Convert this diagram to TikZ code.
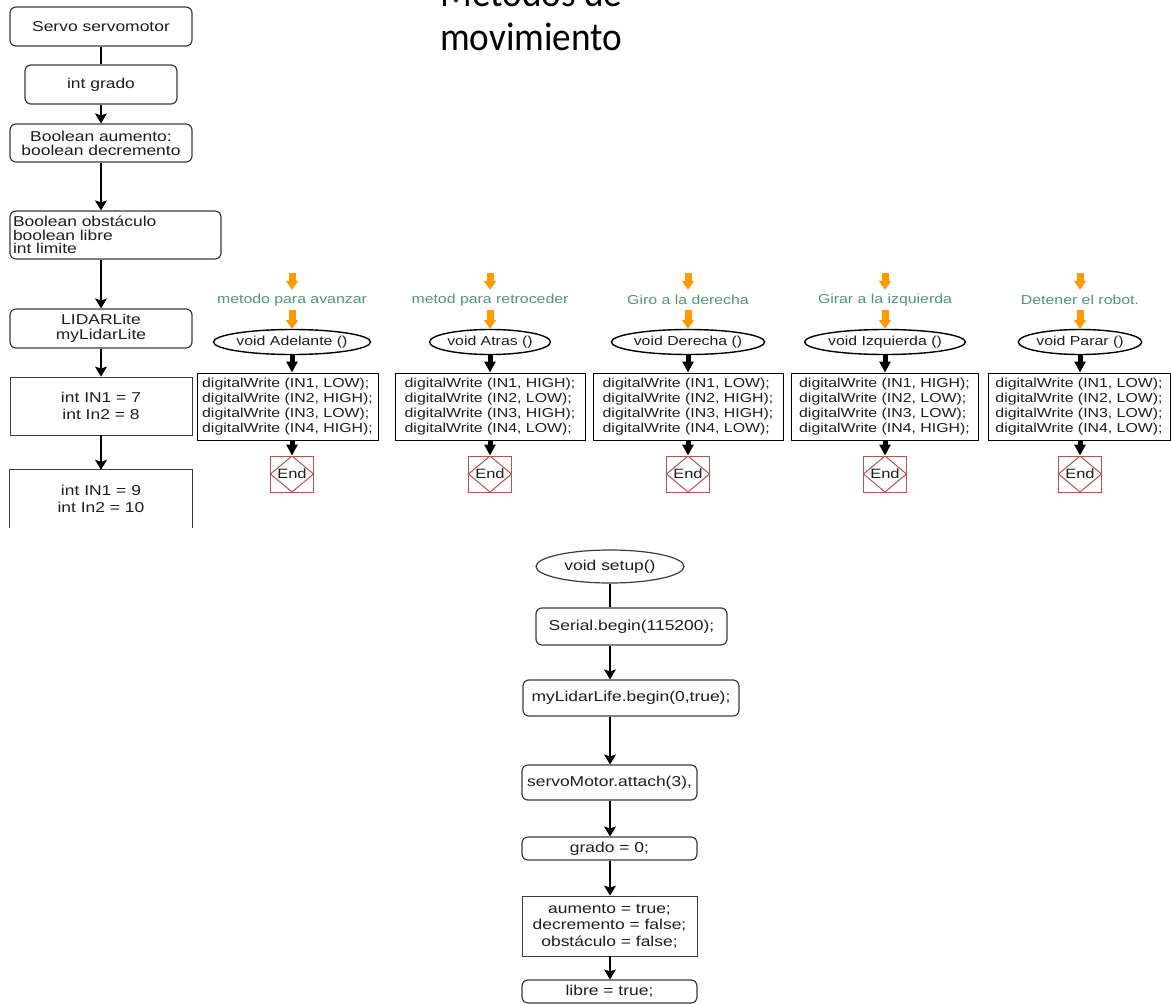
\documentclass[tikz,border=0pt]{standalone}
\usepackage{fontspec}
\setmainfont{Liberation Sans}[FakeStretch=1.22]
\newfontfamily\titlef{Carlito}[FakeStretch=0.93]
\usetikzlibrary{arrows.meta,shapes.geometric,calc}
\definecolor{orng}{RGB}{255,153,0}
\definecolor{grn}{RGB}{80,150,120}
\definecolor{endred}{RGB}{184,84,80}
\definecolor{bord}{RGB}{60,60,60}
\definecolor{txt}{RGB}{30,30,30}
\newcommand\dwlines[4]{digitalWrite (IN1, #1);\\digitalWrite (IN2, #2);\\digitalWrite (IN3, #3);\\digitalWrite (IN4, #4);}
\newcommand\mcol[8]{%
  \coordinate (os#1) at (#2,273);
  \node[lab] (lab#1) at (#2,300) {#6};
  \node[fn, minimum width=#5] (fn#1) at (#2,342) {#7};
  \node[code, minimum width=#4] (code#1) at (#3,406.5) {#8};
  \node[endbox] (end#1) at (#2,474) {End};
  \draw[oarr] (os#1) -- (lab#1.north);
  \draw[oarr] (lab#1.south) -- (fn#1.north);
  \draw[barr] (fn#1.south) -- (fn#1.south |- code#1.north);
  \draw[barr] (code#1.south -| end#1.north) -- (end#1.north);
}
\begin{document}
\begin{tikzpicture}[x=1pt,y=-1pt,
  big/.style={font=\fontsize{14.3}{16}\selectfont},
  small/.style={font=\fontsize{13}{15.1}\selectfont},
  rbox/.style={draw=bord,line width=1.2pt,rounded corners=6pt,inner sep=2pt,big,align=center,text=txt},
  sbox/.style={draw=bord,line width=0.9pt,inner sep=2pt,big,align=center,text=txt},
  code/.style={draw=black,line width=1pt,small,align=left,inner sep=3pt,minimum height=67pt,text=txt},
  lab/.style={inner sep=0pt,minimum height=20pt,small,text=grn},
  fn/.style={ellipse,draw=black,line width=1.4pt,inner sep=0pt,minimum height=25pt,small,text=txt},
  endbox/.style={draw=endred,line width=1pt,minimum width=43pt,minimum height=36pt,inner sep=0pt,font=\fontsize{13.5}{15}\selectfont,text=txt,
    path picture={\draw[endred,line width=1pt] (path picture bounding box.north) -- (path picture bounding box.east) -- (path picture bounding box.south) -- (path picture bounding box.west) -- cycle;}},
  arr/.style={draw=black,line width=1.2pt,-{Stealth[length=10pt,width=12pt,inset=2pt]}},
  plain/.style={draw=black,line width=1.2pt},
  oarr/.style={draw=orng,line width=7pt,-{Triangle[length=9pt,width=12pt]}},
  barr/.style={draw=black,line width=5pt,-{Triangle[length=11pt,width=11pt]}},
  ttl/.style={font=\titlef\fontsize{40}{40}\selectfont,inner sep=0pt,anchor=base west,text=black}
]
\path[use as bounding box] (0,0) rectangle (1171,1004);
\clip (0,0) rectangle (1171,1004);
\fill[white] (0,0) rectangle (1171,1004);

% title
\node[ttl] (t1) at (440,6) {Métodos de};
\node[ttl] (t2) at (440,50) {movimiento};

% left column
\node[rbox,minimum width=182pt,minimum height=39pt] (servo) at (101,26.5) {Servo servomotor};
\node[rbox,minimum width=152pt,minimum height=39pt] (grado) at (101,84.5) {int grado};
\node[rbox,minimum width=182pt,minimum height=38pt,font=\fontsize{14.3}{14}\selectfont] (baum) at (101,143) {Boolean aumento:\\boolean decremento};
\node[rbox,minimum width=211pt,minimum height=48pt,text width=205pt,align=left,inner sep=3pt,font=\fontsize{14.3}{13.5}\selectfont] (bobs) at (115.5,235) {Boolean obstáculo\\boolean libre\\int limite};
\node[rbox,minimum width=182pt,minimum height=39pt,font=\fontsize{14.3}{15}\selectfont] (lidar) at (101,328.5) {LIDARLite\\myLidarLite};
\node[sbox,minimum width=182pt,minimum height=58pt,font=\fontsize{14.3}{16.7}\selectfont] (in17) at (101,406) {int IN1 = 7\\int In2 = 8};
\node[inner sep=2pt,minimum width=182pt,minimum height=58pt,align=center,text=txt,font=\fontsize{14.3}{16.7}\selectfont] (in910) at (101,499) {int IN1 = 9\\int In2 = 10};
\draw[draw=bord,line width=0.9pt] (in910.south west) -- (in910.north west) -- (in910.north east) -- (in910.south east);

\draw[plain] (servo.south) -- (grado.north);
\draw[arr] (grado.south) -- (baum.north);
\draw[arr] (baum.south) -- (baum.south |- bobs.north);
\draw[arr] (bobs.south -| lidar.north) -- (lidar.north);
\draw[arr] (lidar.south) -- (in17.north);
\draw[arr] (in17.south) -- (in910.north);

% method columns
\mcol{1}{292}{287.5}{181pt}{133pt}{metodo para avanzar}{void Adelante ()}{\dwlines{LOW}{HIGH}{LOW}{HIGH}}
\mcol{2}{490}{490}{190pt}{106pt}{metod para retroceder}{void Atras ()}{\dwlines{HIGH}{LOW}{HIGH}{LOW}}
\mcol{3}{688}{688}{190pt}{131pt}{Giro a la derecha}{void Derecha ()}{\dwlines{LOW}{HIGH}{HIGH}{LOW}}
\mcol{4}{885}{884.5}{187pt}{137pt}{Girar a la izquierda}{void Izquierda ()}{\dwlines{HIGH}{LOW}{LOW}{HIGH}}
\mcol{5}{1080}{1079}{182pt}{108pt}{Detener el robot.}{void Parar ()}{\dwlines{LOW}{LOW}{LOW}{LOW}}

% setup column
\node[ellipse,draw=bord,line width=1.2pt,minimum width=148pt,minimum height=33pt,inner sep=0pt,big,text=txt] (setup) at (610,566.5) {void setup()};
\node[rbox,minimum width=191pt,minimum height=37pt] (serial) at (631.5,626.5) {Serial.begin(115200);};
\node[rbox,minimum width=216pt,minimum height=36pt] (mylidar) at (631,698) {myLidarLife.begin(0,true);};
\node[rbox,minimum width=175pt,minimum height=35pt,inner sep=1pt] (attach) at (609.5,782.5) {servoMotor.attach(3),};
\node[rbox,minimum width=175pt,minimum height=23pt,inner sep=1pt] (g0) at (609.5,848.5) {grado = 0;};
\node[sbox,minimum width=175pt,minimum height=60pt,font=\fontsize{14.3}{16.7}\selectfont] (aum) at (609.5,926) {aumento = true;\\decremento = false;\\obstáculo = false;};
\node[rbox,minimum width=175pt,minimum height=23pt,inner sep=1pt] (libre) at (609.5,991.5) {libre = true;};

\draw[plain] (setup.south) -- (setup.south |- serial.north);
\draw[arr] (serial.south -| setup.south) -- (mylidar.north -| setup.south);
\draw[arr] (mylidar.south -| setup.south) -- (attach.north -| setup.south);
\draw[arr] (attach.south -| setup.south) -- (g0.north -| setup.south);
\draw[arr] (g0.south -| setup.south) -- (aum.north -| setup.south);
\draw[arr] (aum.south -| setup.south) -- (libre.north -| setup.south);
\end{tikzpicture}
\end{document}
